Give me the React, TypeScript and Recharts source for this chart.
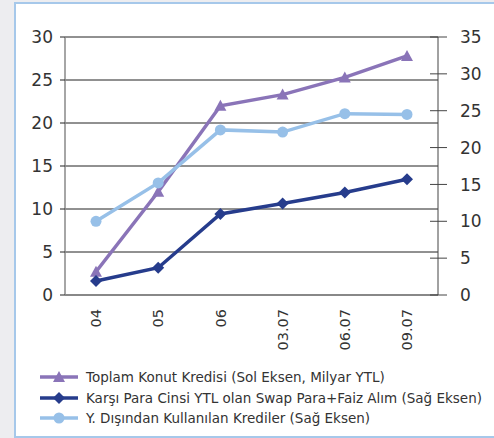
import { LineChart, Line, XAxis, YAxis, CartesianGrid } from 'recharts'

const periods = ['04', '05', '06', '03.07', '06.07', '09.07']
const konutKredisi = [2.7, 12.0, 22.0, 23.3, 25.3, 27.8]
const swapAlim = [1.9, 3.7, 11.0, 12.4, 13.9, 15.7]
const yurtDisiKrediler = [10.0, 15.2, 22.4, 22.1, 24.6, 24.5]
const leftTicks = [0, 5, 10, 15, 20, 25, 30]
const rightTicks = [0, 5, 10, 15, 20, 25, 30, 35]

const PURPLE = '#8a74b8'
const NAVY = '#263c8c'
const SKY = '#97c0e8'
const FONT = '"DejaVu Sans", sans-serif'

const data = periods.map((p, i) => ({
  period: p,
  konut: konutKredisi[i],
  swap: swapAlim[i],
  yurtdisi: yurtDisiKrediler[i],
}))

const series = [
  { label: 'Toplam Konut Kredisi (Sol Eksen, Milyar YTL)', color: PURPLE, shape: 'triangle' },
  { label: 'Karşı Para Cinsi YTL olan Swap Para+Faiz Alım (Sağ Eksen)', color: NAVY, shape: 'diamond' },
  { label: 'Y. Dışından Kullanılan Krediler (Sağ Eksen)', color: SKY, shape: 'circle' },
]

function Marker({ cx, cy, shape, color }: any) {
  if (cx == null || cy == null) return null
  if (shape === 'triangle') {
    return <path d={`M${cx},${cy - 6} L${cx + 6},${cy + 5} L${cx - 6},${cy + 5} Z`} fill={color} />
  }
  if (shape === 'diamond') {
    return <path d={`M${cx},${cy - 6} L${cx + 6},${cy} L${cx},${cy + 6} L${cx - 6},${cy} Z`} fill={color} />
  }
  return <circle cx={cx} cy={cy} r={5.5} fill={color} />
}

// right axis ticks cross the axis line, so the mark is drawn here together with the label
function RightTick({ x, y, payload }: any) {
  return (
    <g>
      <line x1={x - 8} x2={x + 9} y1={y} y2={y} stroke="#444" strokeWidth={1} />
      <text x={x + 22} y={y} dy="0.36em" textAnchor="start" fill="#333" fontSize={17} fontFamily={FONT}>
        {payload.value}
      </text>
    </g>
  )
}

function PeriodTick({ x, y, payload }: any) {
  const ty = y + 14
  return (
    <text
      x={x}
      y={ty}
      transform={`rotate(-90 ${x} ${ty})`}
      textAnchor="end"
      dy="0.36em"
      fill="#333"
      fontSize={14.5}
      fontFamily={FONT}
    >
      {payload.value}
    </text>
  )
}

function Legend() {
  return (
    <div style={{ position: 'absolute', left: 40, top: 367 }}>
      {series.map(s => (
        <div key={s.label} style={{ display: 'flex', alignItems: 'center', height: 20.5 }}>
          <svg width={38} height={14} style={{ marginRight: 8 }}>
            <line x1={0} x2={38} y1={7} y2={7} stroke={s.color} strokeWidth={3.5} />
            <Marker cx={19} cy={7} shape={s.shape} color={s.color} />
          </svg>
          <span style={{ fontFamily: FONT, fontSize: 13.5, color: '#333', whiteSpace: 'nowrap' }}>{s.label}</span>
        </div>
      ))}
    </div>
  )
}

export default function App() {
  return (
    <div style={{ position: 'absolute', left: 0, top: 0, width: 494, height: 438, background: '#ededf0', overflow: 'hidden' }}>
      <div
        style={{
          position: 'absolute',
          left: 14,
          top: 2,
          width: 500,
          height: 432,
          background: '#fff',
          border: '2px solid #a6c8ea',
          borderRight: 'none',
        }}
      />
      <div style={{ position: 'absolute', left: 0, top: 0 }}>
        <LineChart width={494} height={360} data={data} margin={{ top: 37, right: 0, bottom: 0, left: 0 }}>
          <CartesianGrid yAxisId="left" vertical={false} stroke="#222" strokeWidth={1} />
          <XAxis
            dataKey="period"
            height={65}
            padding={{ left: 31, right: 31 }}
            axisLine={{ stroke: '#888', strokeWidth: 2 }}
            tickLine={false}
            tickSize={0}
            tickMargin={0}
            tick={<PeriodTick />}
            interval={0}
          />
          <YAxis
            yAxisId="left"
            width={65}
            domain={[0, 30]}
            ticks={leftTicks}
            axisLine={{ stroke: '#888', strokeWidth: 1.5 }}
            tickLine={{ stroke: '#222' }}
            tickSize={5}
            tickMargin={7}
            tick={{ fill: '#333', fontSize: 17, fontFamily: FONT }}
          />
          <YAxis
            yAxisId="right"
            orientation="right"
            width={56}
            domain={[0, 35]}
            ticks={rightTicks}
            axisLine={{ stroke: '#444', strokeWidth: 1 }}
            tickLine={false}
            tickSize={0}
            tickMargin={0}
            tick={<RightTick />}
          />
          <Line
            yAxisId="left"
            dataKey="konut"
            stroke={PURPLE}
            strokeWidth={3.5}
            dot={(p: any) => <Marker key={p.index} cx={p.cx} cy={p.cy} shape="triangle" color={PURPLE} />}
            isAnimationActive={false}
          />
          <Line
            yAxisId="right"
            dataKey="swap"
            stroke={NAVY}
            strokeWidth={3.5}
            dot={(p: any) => <Marker key={p.index} cx={p.cx} cy={p.cy} shape="diamond" color={NAVY} />}
            isAnimationActive={false}
          />
          <Line
            yAxisId="right"
            dataKey="yurtdisi"
            stroke={SKY}
            strokeWidth={3.5}
            dot={(p: any) => <Marker key={p.index} cx={p.cx} cy={p.cy} shape="circle" color={SKY} />}
            isAnimationActive={false}
          />
        </LineChart>
      </div>
      <Legend />
    </div>
  )
}
